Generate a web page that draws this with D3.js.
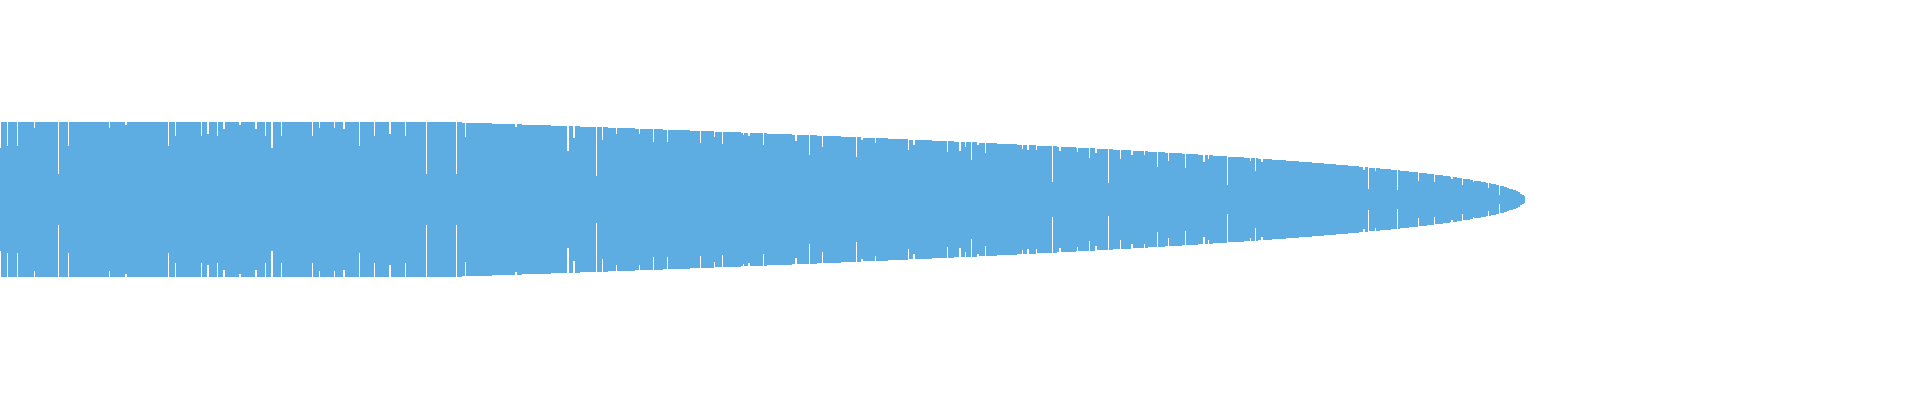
<!DOCTYPE html>
<html>
<head>
<meta charset="utf-8">
<script src="https://cdn.jsdelivr.net/npm/d3@7"></script>
<style>
  html, body { margin: 0; padding: 0; background: #ffffff; }
  svg { display: block; }
</style>
</head>
<body>
<svg id="chart" width="1920" height="400"></svg>
<script>
// ---- data ----
// item count (one item per slot along the horizontal axis)
const itemCount = 1525;

// envelope: item index where a value level starts, and the value
const envStart = [0, 462, 492, 522, 551, 580, 608, 635, 663, 690, 715, 741, 767, 792, 817, 841, 863, 888, 909, 932, 954,
  979, 997, 1017, 1036, 1057, 1076, 1097, 1113, 1133, 1148, 1165, 1182, 1198, 1213, 1228, 1244, 1258, 1272, 1286, 1299,
  1312, 1324, 1336, 1348, 1359, 1369, 1380, 1391, 1400, 1409, 1419, 1427, 1435, 1443, 1450, 1457, 1463, 1470, 1473, 1481,
  1486, 1491, 1496, 1500, 1504, 1507, 1509, 1513, 1516, 1518, 1520, 1522, 1524];
const envValue = [77.5, 76.5, 75.5, 74.5, 73.5, 72.5, 71.5, 70.5, 69.5, 68.5, 67.5, 66.5, 65.5, 64.5, 63.5, 62.5, 61.5, 60.5, 59.5, 58.5, 57.5,
  56.5, 55.5, 54.5, 53.5, 52.5, 51.5, 50.5, 49.5, 48.5, 47.5, 46.5, 45.5, 44.5, 43.5, 42.5, 41.5, 40.5, 39.5, 38.5, 37.5,
  36.5, 35.5, 34.5, 33.5, 32.5, 31.5, 30.5, 29.5, 28.5, 27.5, 26.5, 25.5, 24.5, 23.5, 22.5, 21.5, 20.5, 19.5, 18.5, 17.5,
  16.5, 15.5, 14.5, 13.5, 12.5, 11.5, 10.5, 9.5, 8.5, 7.5, 5.5, 4.5, 3.5];

// lower items inside the envelope: start index, number of items, value
const dipStart = [0, 7, 17, 34, 58, 68, 109, 125, 168, 175, 201, 207, 217, 223, 239, 255, 265, 271, 281, 312, 319, 334, 343, 359, 374,
  389, 405, 426, 456, 465, 515, 567, 573, 596, 602, 616, 639, 653, 667, 700, 714, 722, 743, 748, 763, 795, 809, 822, 856, 861,
  875, 908, 913, 947, 959, 965, 971, 977, 985, 1022, 1027, 1036, 1052, 1059, 1077, 1089, 1095, 1108, 1120, 1131, 1144, 1157,
  1168, 1185, 1203, 1208, 1227, 1250, 1255, 1261, 1363, 1368, 1375, 1397, 1418, 1434, 1451, 1462, 1473, 1488, 1499];
const dipLength = [1, 1, 1, 1, 1, 1, 1, 2, 1, 1, 1, 2, 1, 2, 2, 2, 1, 2, 1, 1, 1, 1, 2, 1, 1,
  2, 1, 1, 1, 1, 2, 2, 2, 1, 1, 1, 1, 1, 1, 1, 1, 1, 1, 2, 1, 2, 1, 1, 1, 2,
  1, 1, 2, 1, 2, 1, 1, 2, 1, 1, 2, 1, 1, 2, 1, 1, 2, 1, 1, 2, 1, 1,
  1, 1, 2, 1, 1, 1, 1, 2, 2, 1, 1, 1, 1, 1, 2, 1, 1, 1, 1];
const dipValue = [51.5, 53.5, 53.5, 71.5, 25.5, 53.5, 71.5, 74.5, 53.5, 63.5, 63.5, 65.5, 63.5, 70.5, 74.5, 70.5, 63.5, 51.5, 63.5, 63.5, 71.5, 71.5, 70.5, 53.5, 63.5,
  65.5, 63.5, 25.5, 25.5, 62.5, 72.5, 48.5, 61.5, 23.5, 59.5, 65.5, 65.5, 57.5, 57.5, 56.5, 62.5, 55.5, 64.5, 63.5, 54.5, 58.5, 44.5, 52.5, 42.5, 59.5,
  56.5, 49.5, 54.5, 47.5, 48.5, 52.5, 39.5, 54.5, 46.5, 50.5, 49.5, 49.5, 17.5, 48.5, 47.5, 41.5, 46.5, 16.5, 40.5, 44.5, 44.5, 32.5,
  38.5, 31.5, 37.5, 40.5, 14.5, 38.5, 28.5, 37.5, 29.5, 10.5, 28.5, 9.5, 18.5, 17.5, 20.5, 14.5, 17.5, 11.5, 4.5];

const maxValue = 77.5;
const fillColor = "#5DADE2";

// ---- build item table ----
const items = d3.range(itemCount).map(i => {
  const k = d3.bisectRight(envStart, i) - 1;
  return { i: i, v: envValue[k] };
});
dipStart.forEach((s, j) => {
  for (let t = 0; t < dipLength[j]; t++) {
    if (s + t < itemCount) items[s + t].v = dipValue[j];
  }
});
items.push({ i: itemCount, v: items[itemCount - 1].v });

// ---- scales ----
const x = d3.scaleLinear().domain([0, itemCount]).range([0, 1525]);
const y = d3.scaleLinear().domain([-maxValue, maxValue]).range([277, 122]);

const area = d3.area()
  .curve(d3.curveStepAfter)
  .x(d => x(d.i))
  .y0(d => y(-d.v))
  .y1(d => y(d.v));

const svg = d3.select("#chart");
svg.append("path")
  .datum(items)
  .attr("d", area)
  .attr("fill", fillColor)
  .attr("shape-rendering", "crispEdges");
</script>
</body>
</html>
